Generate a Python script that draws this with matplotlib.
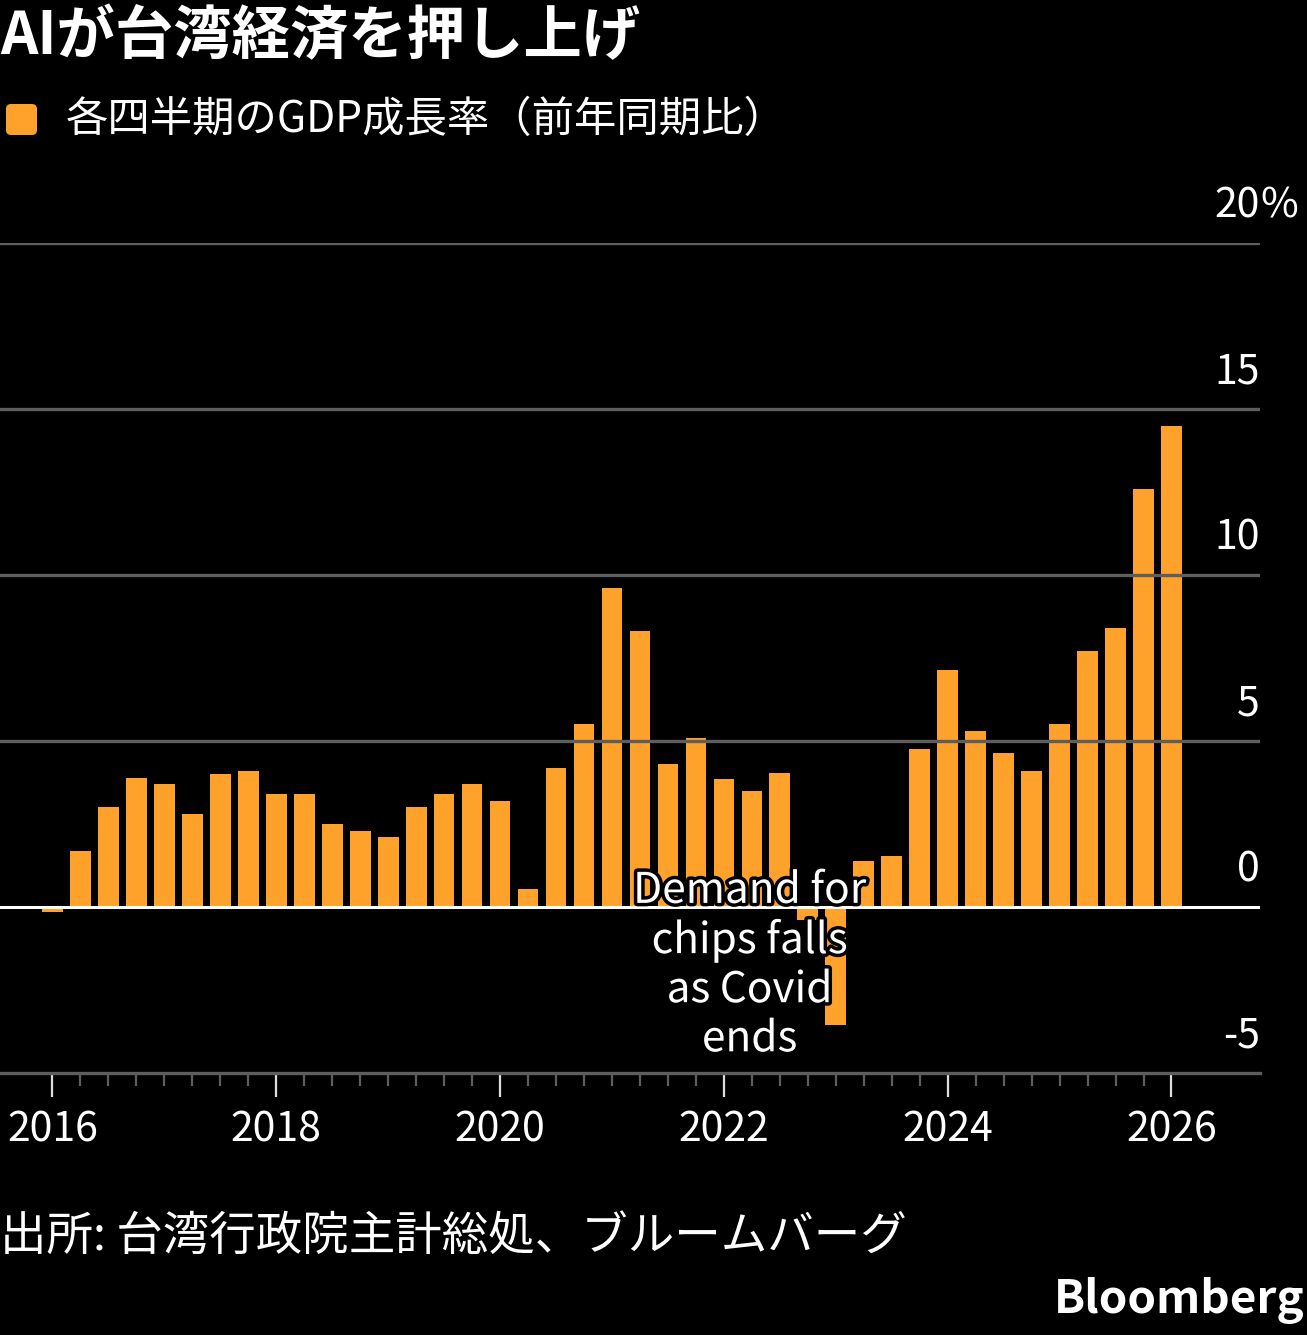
"""Taiwan quarterly GDP growth (YoY) bar chart, Bloomberg dark style."""
import matplotlib
matplotlib.use("Agg")
import matplotlib.pyplot as plt
import matplotlib.patheffects as pe
from matplotlib.patches import FancyBboxPatch
from matplotlib.ticker import FixedLocator

plt.rcParams["font.family"] = ["Noto Sans CJK JP", "DejaVu Sans"]

W, H, DPI = 1307, 1335, 100

# quarterly positions (fractional year) and YoY GDP growth, %
quarters = [2016 + 0.25 * i for i in range(41)]
growth = [
    -0.15, 1.7, 3.0, 3.9, 3.7, 2.8, 4.0, 4.1, 3.4, 3.4,
    2.5, 2.3, 2.1, 3.0, 3.4, 3.7, 3.2, 0.55, 4.2, 5.5,
    9.6, 8.3, 4.3, 5.1, 3.85, 3.5, 4.05, -0.4, -3.55, 1.4,
    1.55, 4.75, 7.15, 5.3, 4.65, 4.1, 5.5, 7.7, 8.4, 12.6,
    14.5,
]
year_ticks = [2016, 2018, 2020, 2022, 2024, 2026]
y_ticks = [-5, 0, 5, 10, 15, 20]

TITLE = "AIが台湾経済を押し上げ"
LEGEND = "各四半期のGDP成長率（前年同期比）"
SOURCE = "出所: 台湾行政院主計総処、ブルームバーグ"
NOTE = "Demand for\nchips falls\nas Covid\nends"

BAR = "#FFA22C"
GRID = "#5e5e5e"
BG = "#000000"


def fy(py):
    """pixel row from top -> figure fraction"""
    return 1 - py / H


fig = plt.figure(figsize=(W / DPI, H / DPI), dpi=DPI, facecolor=BG)
ax = fig.add_axes([0, fy(1073), 1260 / W, (1073 - 243) / H], facecolor=BG)

ax.bar(quarters, growth, width=0.185, color=BAR, zorder=2)

ax.set_xlim(2015.531, 2026.791)
ax.set_ylim(-5, 20)

for v in y_ticks[2:]:
    ax.axhline(v, color=GRID, lw=2.4, zorder=3)
ax.axhline(0, color="white", lw=2.2, zorder=3)

for s in ("top", "left", "right"):
    ax.spines[s].set_visible(False)
ax.spines["bottom"].set_color(GRID)
ax.spines["bottom"].set_linewidth(2.4)

ax.set_yticks([])
ax.xaxis.set_major_locator(FixedLocator(year_ticks))
ax.xaxis.set_minor_locator(FixedLocator(quarters))
ax.set_xticklabels([str(y) for y in year_ticks])
ax.tick_params(axis="x", which="major", length=17, width=1.6, color="#dddddd",
               labelsize=29.5, labelcolor="white", pad=9)
ax.tick_params(axis="x", which="minor", length=9, width=1.6, color=GRID)

xr = ax.get_xlim()[1]
for v in y_ticks:
    ax.text(xr, v + 1.1, str(v), ha="right", va="center", fontsize=29.5,
            color="white", clip_on=False)
ax.text(xr, 21.1, "%", ha="left", va="center", fontsize=29.5, color="white",
        clip_on=False)

ax.text(2022.23, -1.75, NOTE, ha="center", va="center", fontsize=30.5,
        color="white", linespacing=1.15, zorder=5,
        path_effects=[pe.withStroke(linewidth=5, foreground="black")])

fig.text(0, fy(37), TITLE, ha="left", va="center", fontsize=42,
         fontweight="bold", color="white")
fig.patches.append(FancyBboxPatch((0.06, fy(135) * H / DPI), 0.31, 0.31,
                                  boxstyle="round,pad=0,rounding_size=0.05",
                                  transform=fig.dpi_scale_trans,
                                  facecolor=BAR, edgecolor="none"))
fig.text(66 / W, fy(120), LEGEND, ha="left", va="center", fontsize=30.5,
         color="white")
fig.text(0, fy(1237), SOURCE, ha="left", va="center", fontsize=33.5,
         color="white")
fig.text(1305 / W, fy(1300), "Bloomberg", ha="right", va="center",
         fontsize=33, fontweight="bold", color="white")

fig.savefig("out.png", dpi=DPI, facecolor=BG)
